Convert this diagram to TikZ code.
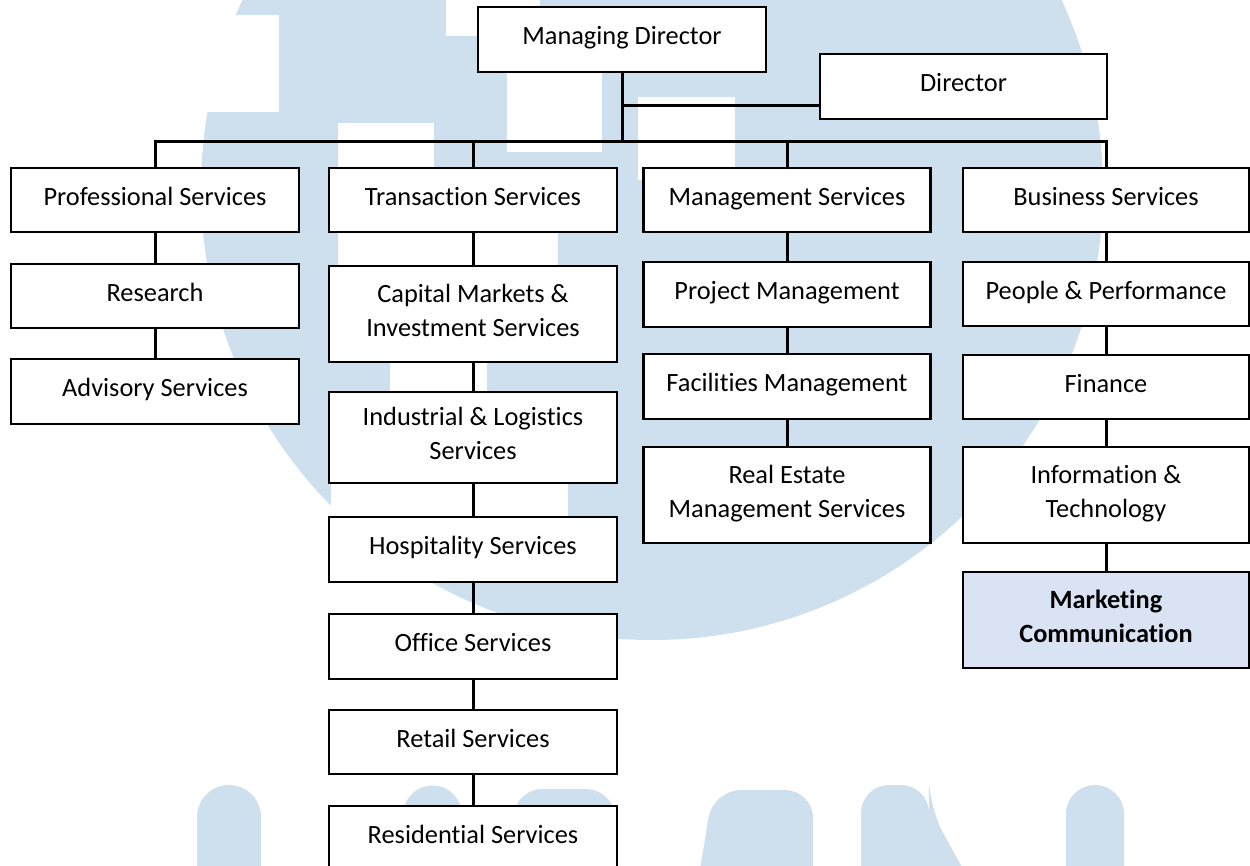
\documentclass[tikz,border=0pt]{standalone}
\usepackage{fontspec}
\setmainfont{Carlito}[Ligatures=NoCommon]
\definecolor{wm}{RGB}{206,224,238}
\definecolor{mkt}{RGB}{218,227,243}
\newdimen\pxu \pxu=0.02cm
\newcommand\orgfont{\fontsize{15pt}{19.4pt}\selectfont}
\newcommand\ostrut{\rule[-8\pxu]{0pt}{26\pxu}}
\tikzset{
  orgbox/.style={draw=black, line width=2.6\pxu, fill=white, inner sep=0pt,
    align=center, font=\orgfont, minimum height=65\pxu,
    execute at begin node=\ostrut, execute at end node=\ostrut},
  wcol/.style={minimum width=288\pxu},
  link/.style={draw=black, line width=3\pxu},
}
\begin{document}
\begin{tikzpicture}[x=0.02cm,y=-0.02cm]
\useasboundingbox (0,0) rectangle (1250,865);
% ---------- watermark ----------
\fill[wm] (652,189) circle[radius=451\pxu];
\fill[white] (190,15) rectangle (279,112);
\fill[white] (338,123) rectangle (434,330);
\fill[white] (434,180) rectangle (558,330);
\fill[white] (390,340) rectangle (487,400);
\fill[white] (331,405) rectangle (568,530);
\fill[white] (446,-10) rectangle (540,36);
\fill[white] (507,60) rectangle (602,152);
\fill[white] (638,97) rectangle (735,180);
\fill[wm] (197,900) -- (197,817) arc[start angle=180,end angle=0,radius=32\pxu] -- (261,900) -- cycle;
\fill[wm] (403,900) -- (403,815) arc[start angle=180,end angle=0,radius=29.5\pxu] -- (462,900) -- cycle;
\fill[wm,rounded corners=28\pxu] (514,900) -- (514,789) -- (614,789) -- (620,900) -- cycle;
\fill[wm,rounded corners=28\pxu] (695,900) -- (713,790) -- (813,790) -- (813,900) -- cycle;
\fill[wm,rounded corners=28\pxu] (861,900) -- (861,785) -- (929,785) -- (929,807) -- (980,900) -- cycle;
\fill[wm] (1066,900) -- (1066,814) arc[start angle=180,end angle=0,radius=29\pxu] -- (1124,900) -- cycle;
% ---------- nodes ----------
\node[orgbox, wcol] (md) at (622,39.5) {Managing Director};
\node[orgbox, minimum width=287\pxu] (dir) at (963.5,86.5) {Director};

\node[orgbox, wcol, minimum height=64\pxu] (ps) at (155,200) {Professional Services};
\node[orgbox, wcol, minimum height=64\pxu] (ts) at (473,200) {Transaction Services};
\node[orgbox, minimum width=287\pxu, minimum height=64\pxu] (ms) at (787,200) {Management Services};
\node[orgbox, minimum width=286\pxu, minimum height=64\pxu] (bs) at (1106,200) {Business Services};

\node[orgbox, wcol, minimum height=64\pxu] (re) at (155,296) {Research};
\node[orgbox, wcol] (adv) at (155,391.5) {Advisory Services};

\node[orgbox, wcol, minimum height=96\pxu] (cap) at (473,314) {Capital Markets \&\\Investment Services};
\node[orgbox, wcol, minimum height=91\pxu] (ind) at (473,437.5) {Industrial \& Logistics\\Services};
\node[orgbox, wcol] (hos) at (473,549.5) {Hospitality Services};
\node[orgbox, wcol] (off) at (473,646.5) {Office Services};
\node[orgbox, wcol, minimum height=64\pxu] (ret) at (473,742) {Retail Services};
\node[orgbox, wcol] (res) at (473,838.5) {Residential Services};

\node[orgbox, minimum width=287\pxu] (pm) at (787,294.5) {Project Management};
\node[orgbox, minimum width=287\pxu] (fm) at (787,386.5) {Facilities Management};
\node[orgbox, minimum width=287\pxu, minimum height=96\pxu] (rem) at (787,495) {Real Estate\\Management Services};

\node[orgbox, minimum width=286\pxu, minimum height=64\pxu] (pp) at (1106,294) {People \& Performance};
\node[orgbox, minimum width=286\pxu, minimum height=64\pxu] (fin) at (1106,387) {Finance};
\node[orgbox, minimum width=286\pxu, minimum height=96\pxu] (it) at (1106,495) {Information \&\\Technology};
\node[orgbox, minimum width=286\pxu, minimum height=96\pxu, fill=mkt, font=\orgfont\bfseries] (mc) at (1106,620) {Marketing\\Communication};
% ---------- connectors ----------
\coordinate (bus) at (622,141);
\coordinate (dj) at (622,106);
\draw[link] (md.south) -- (bus);
\draw[link] (dj) -- (dj -| dir.west);
\draw[link] (ps.north) -- (ps.north |- bus) -- (bs.north |- bus) -- (bs.north);
\draw[link] (ts.north |- bus) -- (ts.north);
\draw[link] (ms.north |- bus) -- (ms.north);
\draw[link] (ps.south) -- (re.north);
\draw[link] (re.south) -- (adv.north);
\draw[link] (ts.south) -- (cap.north);
\draw[link] (cap.south) -- (ind.north);
\draw[link] (ind.south) -- (hos.north);
\draw[link] (hos.south) -- (off.north);
\draw[link] (off.south) -- (ret.north);
\draw[link] (ret.south) -- (res.north);
\draw[link] (ms.south) -- (pm.north);
\draw[link] (pm.south) -- (fm.north);
\draw[link] (fm.south) -- (rem.north);
\draw[link] (bs.south) -- (pp.north);
\draw[link] (pp.south) -- (fin.north);
\draw[link] (fin.south) -- (it.north);
\draw[link] (it.south) -- (mc.north);
\end{tikzpicture}
\end{document}
